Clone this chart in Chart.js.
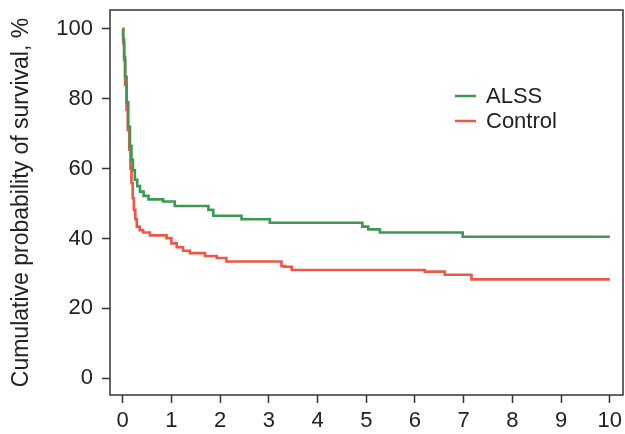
<!DOCTYPE html>
<html>
<head>
<meta charset="utf-8">
<title>Cumulative survival</title>
<script src="https://cdn.jsdelivr.net/npm/chart.js@4/dist/chart.umd.min.js"></script>
<style>
  html, body { margin: 0; padding: 0; background: #fff; }
  #wrap { width: 625px; height: 434px; position: relative; }
</style>
</head>
<body>
<div id="wrap"><canvas id="chart"></canvas></div>
<script>
// Kaplan-Meier curves: years vs. cumulative survival (%)
const alssYears = [0, 0.01, 0.03, 0.05, 0.08, 0.115, 0.15, 0.18, 0.21, 0.25, 0.3, 0.355, 0.43, 0.53, 0.83, 1.07, 1.76, 1.86, 2.44, 3.02, 4.92, 5.04, 5.28, 6.98, 10];
const alssSurv  = [100, 97, 92, 86.3, 79, 72, 66.5, 62.5, 59.5, 56.8, 55, 53.4, 52.2, 51.2, 50.6, 49.3, 48.2, 46.5, 45.5, 44.5, 43.4, 42.6, 41.7, 40.5, 40.5];

const controlYears = [0, 0.01, 0.03, 0.05, 0.08, 0.105, 0.135, 0.16, 0.18, 0.205, 0.23, 0.26, 0.29, 0.35, 0.42, 0.56, 0.9, 1.0, 1.11, 1.24, 1.38, 1.69, 1.93, 2.13, 3.26, 3.33, 3.47, 6.2, 6.61, 7.16, 10];
const controlSurv  = [100, 96, 91, 84, 76.8, 71, 65.4, 60, 55.8, 51.5, 48.2, 45.5, 43.4, 42.4, 41.7, 40.9, 40.1, 38.6, 37.5, 36.5, 35.8, 35, 34.4, 33.4, 32.1, 31.9, 31, 30.5, 29.6, 28.3, 28.3];

const seriesNames = ["ALSS", "Control"];
const seriesColors = ["#3c9a50", "#ec5848"];
const yTitle = "Cumulative probability of survival, %";

const FONT = "'Liberation Sans', Arial, Helvetica, sans-serif";
const FONT_SIZE = 22;

const toPoints = (xs, ys) => xs.map((x, i) => ({ x: x, y: ys[i] }));

// box around the plot area plus a legend inside it
const boxAndLegend = {
  id: "boxAndLegend",
  afterDraw(chart) {
    const { ctx, chartArea: a } = chart;
    ctx.save();
    ctx.strokeStyle = "#333";
    ctx.lineWidth = 1.5;
    ctx.strokeRect(a.left, a.top, a.right - a.left, a.bottom - a.top);

    ctx.font = FONT_SIZE + "px " + FONT;
    ctx.textBaseline = "middle";
    chart.data.datasets.forEach((ds, i) => {
      const y = 96 + i * 25;
      ctx.strokeStyle = ds.borderColor;
      ctx.lineWidth = 2.5;
      ctx.beginPath();
      ctx.moveTo(455, y);
      ctx.lineTo(476, y);
      ctx.stroke();
      ctx.fillStyle = "#222";
      ctx.fillText(ds.label, 486, y + 1);
    });
    ctx.restore();
  },
};

const data = {
  datasets: [
    {
      label: seriesNames[0],
      data: toPoints(alssYears, alssSurv),
      borderColor: seriesColors[0],
    },
    {
      label: seriesNames[1],
      data: toPoints(controlYears, controlSurv),
      borderColor: seriesColors[1],
    },
  ].map((ds) => ({
    ...ds,
    stepped: true,
    borderWidth: 2.6,
    pointRadius: 0,
    fill: false,
    tension: 0,
  })),
};

const config = {
  type: "line",
  data,
  options: {
    responsive: true,
    maintainAspectRatio: false,
    animation: false,
    layout: { padding: { top: 10, right: 2, left: 0, bottom: 0 } },
    scales: {
      x: {
        type: "linear",
        min: -0.26,
        max: 10.27,
        afterBuildTicks: (s) => {
          s.ticks = [0, 1, 2, 3, 4, 5, 6, 7, 8, 9, 10].map((v) => ({ value: v }));
        },
        afterFit: (s) => {
          s.height = 39;
          s.paddingLeft = 0;
          s.paddingRight = 0;
        },
        grid: {
          drawOnChartArea: false,
          drawTicks: true,
          tickLength: 8,
          tickWidth: 1.5,
          tickColor: "#333",
        },
        border: { display: false },
        ticks: {
          color: "#222",
          font: { family: FONT, size: FONT_SIZE },
          padding: 5,
          maxRotation: 0,
        },
      },
      y: {
        min: -4.8,
        max: 105.4,
        afterBuildTicks: (s) => {
          s.ticks = [0, 20, 40, 60, 80, 100].map((v) => ({ value: v }));
        },
        afterFit: (s) => {
          s.width = 110;
          s.paddingTop = 0;
          s.paddingBottom = 0;
        },
        grid: {
          drawOnChartArea: false,
          drawTicks: true,
          tickLength: 8,
          tickWidth: 1.5,
          tickColor: "#333",
        },
        border: { display: false },
        ticks: {
          color: "#222",
          font: { family: FONT, size: FONT_SIZE },
          padding: 9,
        },
        title: {
          display: true,
          text: yTitle,
          color: "#222",
          font: { family: FONT, size: 23 },
          padding: { top: 8, bottom: 10 },
        },
      },
    },
    plugins: {
      legend: { display: false },
      tooltip: { enabled: false },
    },
  },
  plugins: [boxAndLegend],
};

const ctx = document.querySelector("#chart").getContext("2d");
const chart = new Chart(ctx, config);
</script>
</body>
</html>
